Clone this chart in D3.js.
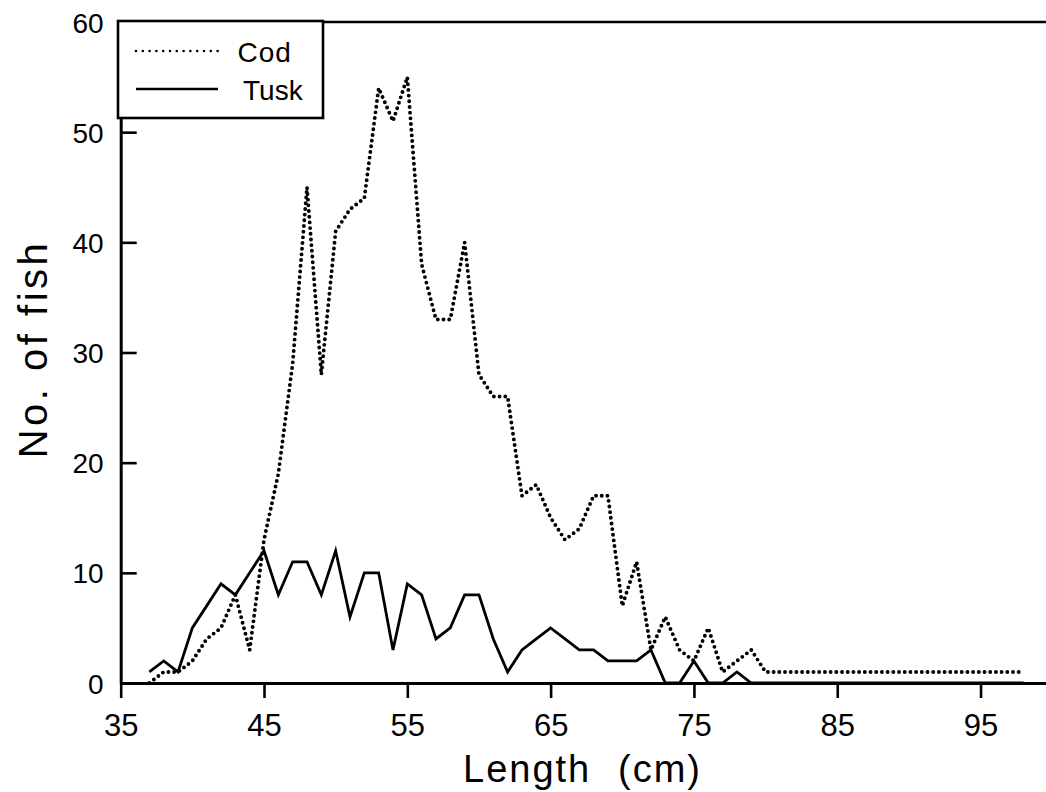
<!DOCTYPE html>
<html>
<head>
<meta charset="utf-8">
<script src="https://cdn.jsdelivr.net/npm/d3@7"></script>
<style>
  body { margin: 0; background: #fff; }
  text { font-family: "Liberation Sans", Arial, sans-serif; fill: #000; }
</style>
</head>
<body>
<div id="chart"></div>
<script>
// Length classes (cm)
const lengths = d3.range(37, 99);

// Cod counts, 37..98 cm
const codCounts = [
  0, 1, 1, 2, 4, 5, 8, 3, 13, 19, 29, 45, 28, 41, 43, 44, 54, 51, 55,
  38, 33, 33, 40, 28, 26, 26, 17, 18, 15, 13, 14, 17, 17, 7, 11, 3, 6,
  3, 2, 5, 1, 2, 3,
  1, 1, 1, 1, 1, 1, 1, 1, 1, 1, 1, 1, 1, 1, 1, 1, 1, 1, 1
];

// Tusk counts, 37..98 cm
const tuskCounts = [
  1, 2, 1, 5, 7, 9, 8, 10, 12, 8, 11, 11, 8, 12, 6, 10, 10, 3, 9,
  8, 4, 5, 8, 8, 4, 1, 3, 4, 5, 4, 3, 3, 2, 2, 2, 3, 0,
  0, 2, 0, 0, 1, 0,
  0, 0, 0, 0, 0, 0, 0, 0, 0, 0, 0, 0, 0, 0, 0, 0, 0, 0, 0
];

const xTicks = [35, 45, 55, 65, 75, 85, 95];
const yTicks = [0, 10, 20, 30, 40, 50, 60];

const width = 1046;
const height = 792;

const svg = d3
  .select("#chart")
  .append("svg")
  .attr("width", width)
  .attr("height", height);

const x = d3.scaleLinear().domain([35, 100]).range([120.7, 1052.2]);
const y = d3.scaleLinear().domain([0, 60]).range([683, 22]);

// frame: top line
svg
  .append("line")
  .attr("x1", x(35))
  .attr("x2", width)
  .attr("y1", y(60))
  .attr("y2", y(60))
  .attr("stroke", "#000")
  .attr("stroke-width", 2.6);

// x axis
const xAxis = svg
  .append("g")
  .attr("transform", `translate(0,${y(0)})`)
  .call(d3.axisBottom(x).tickValues(xTicks).tickSize(15).tickSizeOuter(0));

// y axis (ticks pointing inward)
const yAxis = svg
  .append("g")
  .attr("transform", `translate(${x(35)},0)`)
  .call(d3.axisLeft(y).tickValues(yTicks).tickSize(-16).tickSizeOuter(0));

[xAxis, yAxis].forEach((g) => {
  g.attr("font-family", null).attr("font-size", null);
  g.select(".domain").attr("stroke", "#000").attr("stroke-width", 3);
  g.selectAll(".tick line").attr("stroke", "#000").attr("stroke-width", 2.6);
  g.selectAll(".tick text").attr("fill", "#000");
});
xAxis.selectAll(".tick text")
  .attr("y", 53)
  .attr("dy", null)
  .style("font-size", "31px");
yAxis.selectAll(".tick text")
  .attr("x", -17)
  .attr("dy", "0.36em")
  .style("font-size", "28px");
yAxis.selectAll(".tick").filter((d) => d === 0 || d === 60).select("line").remove();

// axis titles
const xTitle = svg
  .append("text")
  .attr("y", 782)
  .style("font-size", "38px")
  .style("letter-spacing", "2px");
xTitle.append("tspan").attr("x", 463).text("Length");
xTitle.append("tspan").attr("x", 618).text("(cm)");

svg
  .append("text")
  .attr("transform", `translate(47,349) rotate(-90)`)
  .attr("text-anchor", "middle")
  .style("font-size", "40px")
  .style("letter-spacing", "3.5px")
  .text("No. of fish");

const line = d3
  .line()
  .x((d) => x(d[0]))
  .y((d) => y(d[1]));

const codData = lengths.map((l, i) => [l, codCounts[i]]);
const tuskData = lengths.map((l, i) => [l, tuskCounts[i]]);

// Tusk (solid)
svg
  .append("path")
  .datum(tuskData)
  .attr("fill", "none")
  .attr("stroke", "#000")
  .attr("stroke-width", 2.8)
  .attr("stroke-linejoin", "miter")
  .attr("d", line);

// Cod (dotted)
svg
  .append("path")
  .datum(codData)
  .attr("fill", "none")
  .attr("stroke", "#000")
  .attr("stroke-width", 3.9)
  .attr("stroke-linecap", "round")
  .attr("stroke-dasharray", "0 5.7")
  .attr("d", line);

// Legend
const legend = svg.append("g");
legend
  .append("rect")
  .attr("x", 118)
  .attr("y", 21)
  .attr("width", 205)
  .attr("height", 97)
  .attr("fill", "#fff")
  .attr("stroke", "#000")
  .attr("stroke-width", 2.6);

legend
  .append("line")
  .attr("x1", 136)
  .attr("x2", 218)
  .attr("y1", 51)
  .attr("y2", 51)
  .attr("stroke", "#000")
  .attr("stroke-width", 2.6)
  .attr("stroke-linecap", "round")
  .attr("stroke-dasharray", "0 6.8");

legend
  .append("line")
  .attr("x1", 136)
  .attr("x2", 218)
  .attr("y1", 89)
  .attr("y2", 89)
  .attr("stroke", "#000")
  .attr("stroke-width", 2.6);

legend
  .append("text")
  .attr("x", 237.5)
  .attr("y", 61.5)
  .style("font-size", "28px")
  .style("letter-spacing", "1px")
  .text("Cod");

legend
  .append("text")
  .attr("x", 243)
  .attr("y", 100)
  .style("font-size", "28px")
  .text("Tusk");
</script>
</body>
</html>
